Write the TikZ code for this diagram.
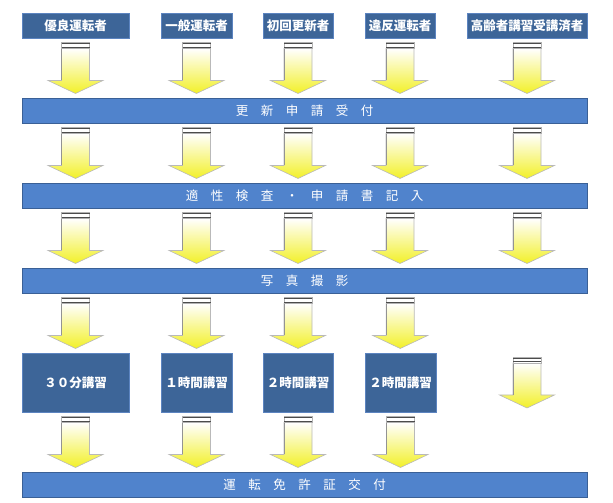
\documentclass[tikz,border=0pt]{standalone}
\usepackage{fontspec}
\newfontfamily\jp{Noto Sans CJK JP}
\usetikzlibrary{calc}
\definecolor{boxblue}{RGB}{61,101,152}
\definecolor{boxedge}{RGB}{92,132,192}
\definecolor{barblue}{RGB}{80,131,204}
\definecolor{baredge}{RGB}{58,96,150}
\definecolor{arrowylw}{RGB}{242,240,40}

\tikzset{
  who/.style={draw=boxedge, fill=boxblue, text=white, line width=0.8pt,
    minimum height=25pt, inner sep=0pt,
    font=\jp\bfseries\fontsize{12.5}{14}\selectfont},
  lecture/.style={who, minimum height=59pt},
  stage/.style={draw=baredge, fill=barblue, text=white, line width=0.8pt,
    minimum width=565pt, minimum height=25pt, inner sep=0pt,
    font=\jp\fontsize{12.5}{14}\selectfont},
  pics/downarrow/.style={code={
    \shadedraw[top color=white, middle color=arrowylw!45, bottom color=arrowylw,
      draw=gray!55, line width=0.6pt]
      (-14,19.5) -- (14,19.5) -- (14,-12.5) -- (27.5,-12.5) -- (0,-25.5)
      -- (-27.5,-12.5) -- (-14,-12.5) -- cycle;
    \draw[gray!85, line width=0.8pt] (-14,19.5) -- (-14,-12.5);
    \filldraw[fill=white, draw=gray!60, line width=0.5pt] (-14,19.5) rectangle (14,25.5);
    \draw[black!70, line width=1.1pt] (-14,24.1) -- (14,24.1) (-14,20.9) -- (14,20.9);
  }}
}

\begin{document}
\begin{tikzpicture}[x=1pt,y=1pt]
  \useasboundingbox (0,0) rectangle (613,503);
  % who comes to renew
  \node[who, minimum width=107pt] (good)    at (75.5,477.5) {優良運転者};
  \node[who, minimum width=71pt]  (general) at (196.5,477.5) {一般運転者};
  \node[who, minimum width=70pt]  (first)   at (298,477.5) {初回更新者};
  \node[who, minimum width=70pt]  (viol)    at (400,477.5) {違反運転者};
  \node[who, minimum width=120pt] (elder)   at (527,477.5) {高齢者講習受講済者};
  % steps
  \node[stage] (bar1) at (304.5,392.5) {更　新　申　請　受　付};
  \node[stage] (bar2) at (304.5,307.5) {適　性　検　査　・　申　請　書　記　入};
  \node[stage] (bar3) at (304.5,222.5) {写　真　撮　影};
  % lectures
  \node[lecture, minimum width=107pt] (lgood)    at (75.5,120.5) {３０分講習};
  \node[lecture, minimum width=71pt]  (lgeneral) at (196.5,120.5) {１時間講習};
  \node[lecture, minimum width=70pt]  (lfirst)   at (298,120.5) {２時間講習};
  \node[lecture, minimum width=71pt]  (lviol)    at (400.5,120.5) {２時間講習};
  \node[stage] (bar4) at (304.5,18.5) {運　転　免　許　証　交　付};
  % arrows
  \foreach \c in {good,general,first,viol,elder} {
    \pic at ($(\c.south)!0.5!(\c.south|-bar1.north)$) {downarrow};
    \pic at ($(\c.south|-bar1.south)!0.5!(\c.south|-bar2.north)$) {downarrow};
    \pic at ($(\c.south|-bar2.south)!0.5!(\c.south|-bar3.north)$) {downarrow};
  }
  \foreach \c in {good,general,first,viol} {
    \pic at ($(\c.south|-bar3.south)!0.5!(l\c.north)$) {downarrow};
    \pic at ($(l\c.south)!0.5!(l\c.south|-bar4.north)$) {downarrow};
  }
  \pic at (elder|-lgood) {downarrow};
\end{tikzpicture}
\end{document}
